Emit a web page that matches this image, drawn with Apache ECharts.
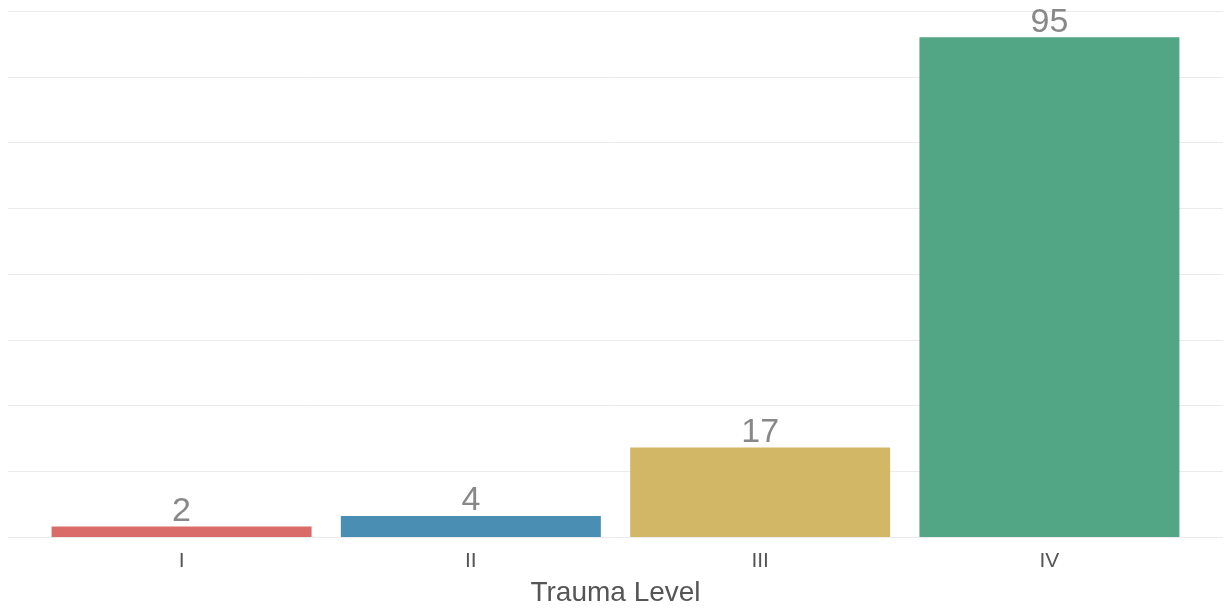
<!DOCTYPE html>
<html>
<head>
<meta charset="utf-8">
<script src="https://cdn.jsdelivr.net/npm/echarts@6/dist/echarts.min.js"></script>
<style>
  html, body { margin: 0; padding: 0; background: #fff; }
  #chart { width: 1225px; height: 610px; }
</style>
</head>
<body>
<div id="chart"></div>
<script>
// data
let levels = ['I', 'II', 'III', 'IV'];
let counts = [2, 4, 17, 95];
let barColors = ['#d96b69', '#4a8fb3', '#d1b766', '#52a685'];

let chart = echarts.init(document.getElementById('chart'));
let fontFamily = "'Liberation Sans', Arial, sans-serif";

// bars sit at positions 1..4 on a value axis so the gridlines can run past the outer bars
let barData = counts.map((v, i) => ({
    value: [i + 1, v],
    itemStyle: { color: barColors[i] }
}));

let option = {
    animation: false,
    grid: { left: 8, right: 2, top: 11, bottom: 73, outerBoundsMode: 'none' },
    xAxis: {
        type: 'value',
        min: 0.4,
        max: 4.6,
        name: 'Trauma Level',
        nameLocation: 'middle',
        nameGap: 42,
        nameTextStyle: { color: '#555', fontSize: 28, fontFamily: fontFamily },
        axisLine: { show: false },
        axisTick: { show: false },
        splitLine: { show: false },
        axisLabel: {
            customValues: [1, 2, 3, 4],
            formatter: v => levels[Math.round(v) - 1] || '',
            color: '#555',
            fontSize: 21,
            margin: 14,
            fontFamily: fontFamily
        }
    },
    yAxis: {
        type: 'value',
        min: 0,
        max: 100,
        interval: 12.5,
        axisLine: { show: false },
        axisTick: { show: false },
        axisLabel: { show: false },
        splitLine: { lineStyle: { color: '#ebebeb', width: 1 } }
    },
    series: [{
        type: 'bar',
        barWidth: 260,
        data: barData,
        label: {
            show: true,
            position: 'top',
            distance: -2,
            formatter: p => p.value[1],
            color: '#888',
            fontSize: 34,
            fontFamily: fontFamily
        }
    }]
};
chart.setOption(option);
</script>
</body>
</html>
